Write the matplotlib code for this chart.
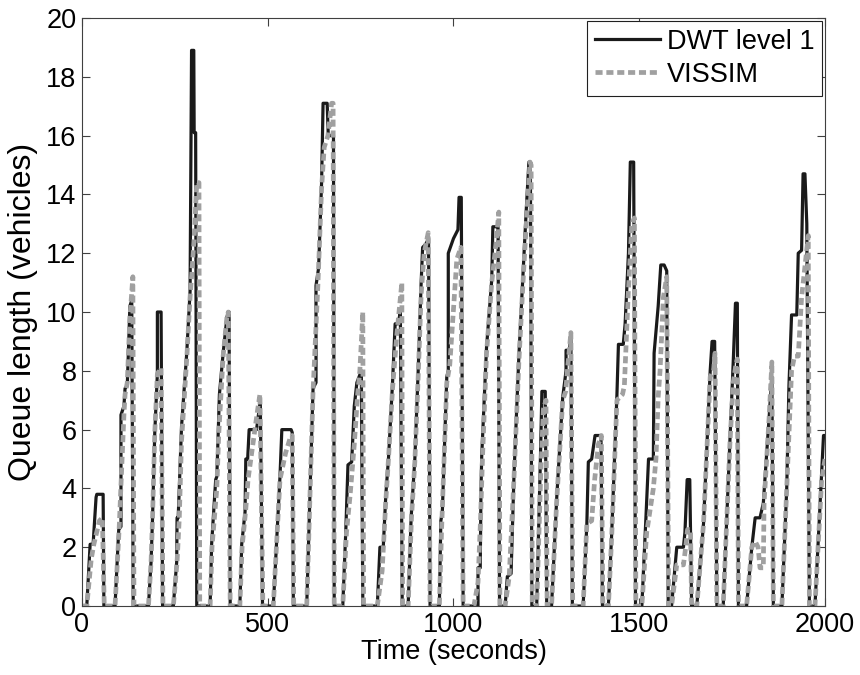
import numpy as np
import matplotlib.pyplot as plt

plt.rcParams['font.family'] = ['Liberation Sans', 'DejaVu Sans']
plt.rcParams['font.size'] = 19.5

# DWT level 1 queue length (breakpoints)
dwt_t = [0, 13, 22, 30, 38, 40, 57, 59,
         89, 99, 105, 105, 113, 116, 122, 129, 134, 138,
         179, 186, 190, 196, 203, 203, 213, 217,
         246, 255, 256, 259, 268, 282, 291, 293, 295, 301, 302, 306, 309,
         345, 349, 360, 363, 370, 380, 390, 393, 396, 399,
         425, 430, 439, 441, 446, 450, 470, 480, 486,
         515, 533, 538, 563, 566, 569,
         605, 622, 630, 630, 637, 645, 649, 660, 663, 677, 679,
         702, 710, 716, 726, 733, 740, 752, 756,
         795, 802, 811, 818, 825, 836, 843, 851, 857, 862,
         878, 886, 896, 905, 913, 917, 925, 933, 937,
         962, 966, 970, 982, 986, 986, 1000, 1012, 1015, 1021, 1026,
         1066, 1066, 1072, 1074, 1076, 1089, 1103, 1106, 1117, 1120, 1124,
         1139, 1145, 1155, 1163, 1176, 1188, 1196, 1203, 1207, 1211,
         1224, 1234, 1238, 1247, 1251,
         1264, 1278, 1294, 1303, 1303, 1312, 1316, 1320,
         1349, 1359, 1363, 1372, 1381, 1397, 1401,
         1417, 1426, 1440, 1444, 1457, 1462, 1471, 1476, 1485, 1490,
         1507, 1518, 1525, 1538, 1540, 1551, 1558, 1567, 1574, 1578,
         1587, 1601, 1619, 1623, 1629, 1636, 1641,
         1655, 1673, 1691, 1696, 1703, 1709,
         1726, 1744, 1753, 1759, 1764, 1767,
         1789, 1803, 1812, 1825, 1834, 1857, 1861,
         1884, 1897, 1903, 1910, 1924, 1928, 1937, 1941, 1946, 1951, 1958,
         1973, 1985, 1996, 2000]
dwt_q = [0, 0, 2.1, 2.1, 3.7, 3.8, 3.8, 0,
         0, 2.6, 2.7, 6.5, 6.8, 7.4, 7.5, 10.2, 10.4, 0,
         0, 1.5, 3.0, 5.9, 7.9, 10.0, 10.0, 0,
         0, 1.5, 3.0, 3.0, 6.1, 8.6, 10.7, 14.8, 18.9, 18.9, 16.1, 16.1, 0,
         0, 2.1, 4.3, 4.4, 7.2, 8.6, 9.8, 10.0, 10.0, 0,
         0, 2.1, 3.2, 5.0, 5.0, 6.0, 6.0, 7.0, 0,
         0, 4.4, 6.0, 6.0, 5.9, 0,
         0, 7.4, 7.6, 10.9, 11.5, 14.4, 17.1, 17.1, 16.0, 16.0, 0,
         0, 2.5, 4.8, 4.9, 6.8, 7.6, 8.0, 0,
         0, 2.0, 2.0, 3.8, 5.0, 7.6, 9.6, 9.6, 10.0, 0,
         0, 3.0, 5.0, 8.0, 11.0, 12.2, 12.3, 12.5, 0,
         0, 2.9, 3.2, 7.8, 8.0, 12.0, 12.5, 12.8, 13.9, 13.9, 0,
         0, 1.3, 1.3, 3.9, 5.1, 8.8, 11.1, 12.9, 12.9, 13.0, 0,
         0, 1.0, 1.1, 4.5, 8.5, 11.5, 13.5, 15.1, 15.1, 0,
         0, 5.0, 7.3, 7.3, 0,
         0, 3.7, 7.1, 8.0, 8.7, 8.7, 9.2, 0,
         0, 2.8, 4.9, 5.0, 5.8, 5.8, 0,
         0, 2.5, 7.2, 8.9, 8.9, 9.6, 12.0, 15.1, 15.1, 0,
         0, 3.0, 5.0, 5.0, 8.6, 10.2, 11.6, 11.6, 11.4, 0,
         0, 2.0, 2.0, 2.5, 4.3, 4.3, 0,
         0, 2.8, 8.0, 9.0, 9.0, 0,
         0, 5.6, 8.3, 10.3, 10.3, 0,
         0, 2.0, 3.0, 3.0, 3.5, 7.8, 0,
         0, 4.0, 7.5, 9.9, 9.9, 12.0, 12.1, 14.7, 14.7, 13.0, 0,
         0, 3.0, 5.8, 5.8]

# VISSIM queue length
vis_t = [0, 13, 25, 32, 47, 55, 60,
         89, 100, 113, 116, 122, 129, 137, 140,
         179, 186, 190, 196, 203, 213, 218,
         246, 256, 262, 268, 282, 291, 295, 302, 309, 315, 317,
         345, 350, 363, 368, 380, 390, 394, 399,
         425, 431, 441, 447, 460, 472, 479, 487,
         515, 533, 548, 560, 566, 570,
         605, 622, 635, 645, 652, 662, 672, 676, 679,
         702, 712, 722, 733, 742, 748, 756, 758,
         795, 808, 818, 825, 836, 848, 861, 863,
         878, 887, 896, 905, 913, 921, 932, 937,
         962, 968, 982, 990, 1009, 1020, 1026,
         1055, 1066, 1073, 1078, 1089, 1103, 1115, 1122, 1125,
         1139, 1150, 1163, 1176, 1188, 1196, 1206, 1209, 1212,
         1224, 1235, 1242, 1249, 1252,
         1264, 1278, 1294, 1302, 1308, 1316, 1321,
         1349, 1359, 1372, 1380, 1390, 1398, 1402,
         1417, 1426, 1440, 1455, 1460, 1470, 1480, 1487, 1491,
         1507, 1520, 1538, 1545, 1551, 1556, 1565, 1574, 1579,
         1587, 1601, 1619, 1625, 1630, 1638, 1641,
         1655, 1673, 1691, 1700, 1704, 1709,
         1726, 1744, 1753, 1760, 1764, 1767,
         1789, 1803, 1812, 1820, 1825, 1834, 1836, 1850, 1857, 1861,
         1884, 1897, 1910, 1918, 1928, 1937, 1950, 1955, 1958,
         1973, 1991, 2000]
vis_q = [0, 0, 1.6, 2.1, 2.9, 3.0, 0,
         0, 2.6, 6.5, 7.2, 7.6, 9.8, 11.2, 0,
         0, 1.5, 3.0, 5.9, 7.9, 8.1, 0,
         0, 1.5, 3.0, 5.6, 8.4, 10.5, 11.2, 12.5, 14.4, 14.4, 0,
         0, 2.0, 4.0, 5.8, 8.5, 9.8, 10.0, 0,
         0, 2.0, 3.3, 4.3, 5.5, 6.6, 7.2, 0,
         0, 4.3, 5.2, 5.7, 5.8, 0,
         0, 7.3, 10.9, 14.2, 15.6, 16.0, 17.1, 17.1, 0,
         0, 2.5, 3.8, 5.5, 7.2, 8.0, 10.0, 0,
         0, 1.2, 3.6, 5.0, 7.4, 9.3, 11.0, 0,
         0, 3.0, 4.9, 7.8, 10.6, 12.0, 12.7, 0,
         0, 2.6, 7.6, 8.2, 11.8, 12.2, 0,
         0, 0.8, 3.0, 5.0, 8.6, 11.0, 12.4, 13.4, 0,
         0, 1.0, 4.4, 8.3, 11.2, 13.0, 15.1, 15.0, 0,
         0, 4.5, 6.7, 7.0, 0,
         0, 3.6, 7.0, 7.3, 8.2, 9.3, 0,
         0, 2.8, 2.9, 4.3, 5.5, 5.8, 0,
         0, 2.4, 7.0, 7.2, 7.5, 10.5, 13.0, 13.2, 0,
         0, 2.5, 4.0, 5.0, 7.1, 8.0, 10.5, 11.2, 0,
         0, 1.4, 1.4, 2.0, 2.6, 2.6, 0,
         0, 2.8, 7.8, 8.0, 8.6, 0,
         0, 5.5, 7.6, 8.2, 8.4, 0,
         0, 2.0, 2.2, 2.0, 1.3, 1.3, 3.5, 6.5, 8.3, 0,
         0, 4.0, 8.0, 8.5, 8.5, 10.5, 12.0, 12.6, 0,
         0, 4.3, 5.0]

fig = plt.figure(figsize=(8.6, 6.75), dpi=100)
ax = fig.add_axes([0.0953, 0.1022, 0.8640, 0.8711])

ax.plot(dwt_t, dwt_q, color='#1a1a1a', linewidth=2.3, label='DWT level 1')
ax.plot(vis_t, vis_q, color='#a0a0a0', linewidth=3.4, linestyle=(0, (1.5, 0.8)),
        label='VISSIM')

ax.set_xlim(0, 2000)
ax.set_ylim(0, 20)
ax.set_xticks([0, 500, 1000, 1500, 2000])
ax.set_yticks(np.arange(0, 21, 2))
ax.tick_params(direction='in', top=True, right=True, length=6, width=0.8,
               color='#404040', pad=4)
for s in ax.spines.values():
    s.set_color('#404040')
    s.set_linewidth(0.8)

ax.set_xlabel('Time (seconds)', labelpad=1)
ax.set_ylabel('Queue length (vehicles)', fontsize=23, labelpad=6)

leg = ax.legend(loc='upper right', borderaxespad=0.1, fancybox=False,
                framealpha=1, edgecolor='#202020', handlelength=2.4,
                handletextpad=0.25, labelspacing=0.25, borderpad=0.3)
leg.get_frame().set_linewidth(0.8)

plt.savefig('out.png', dpi=100)
